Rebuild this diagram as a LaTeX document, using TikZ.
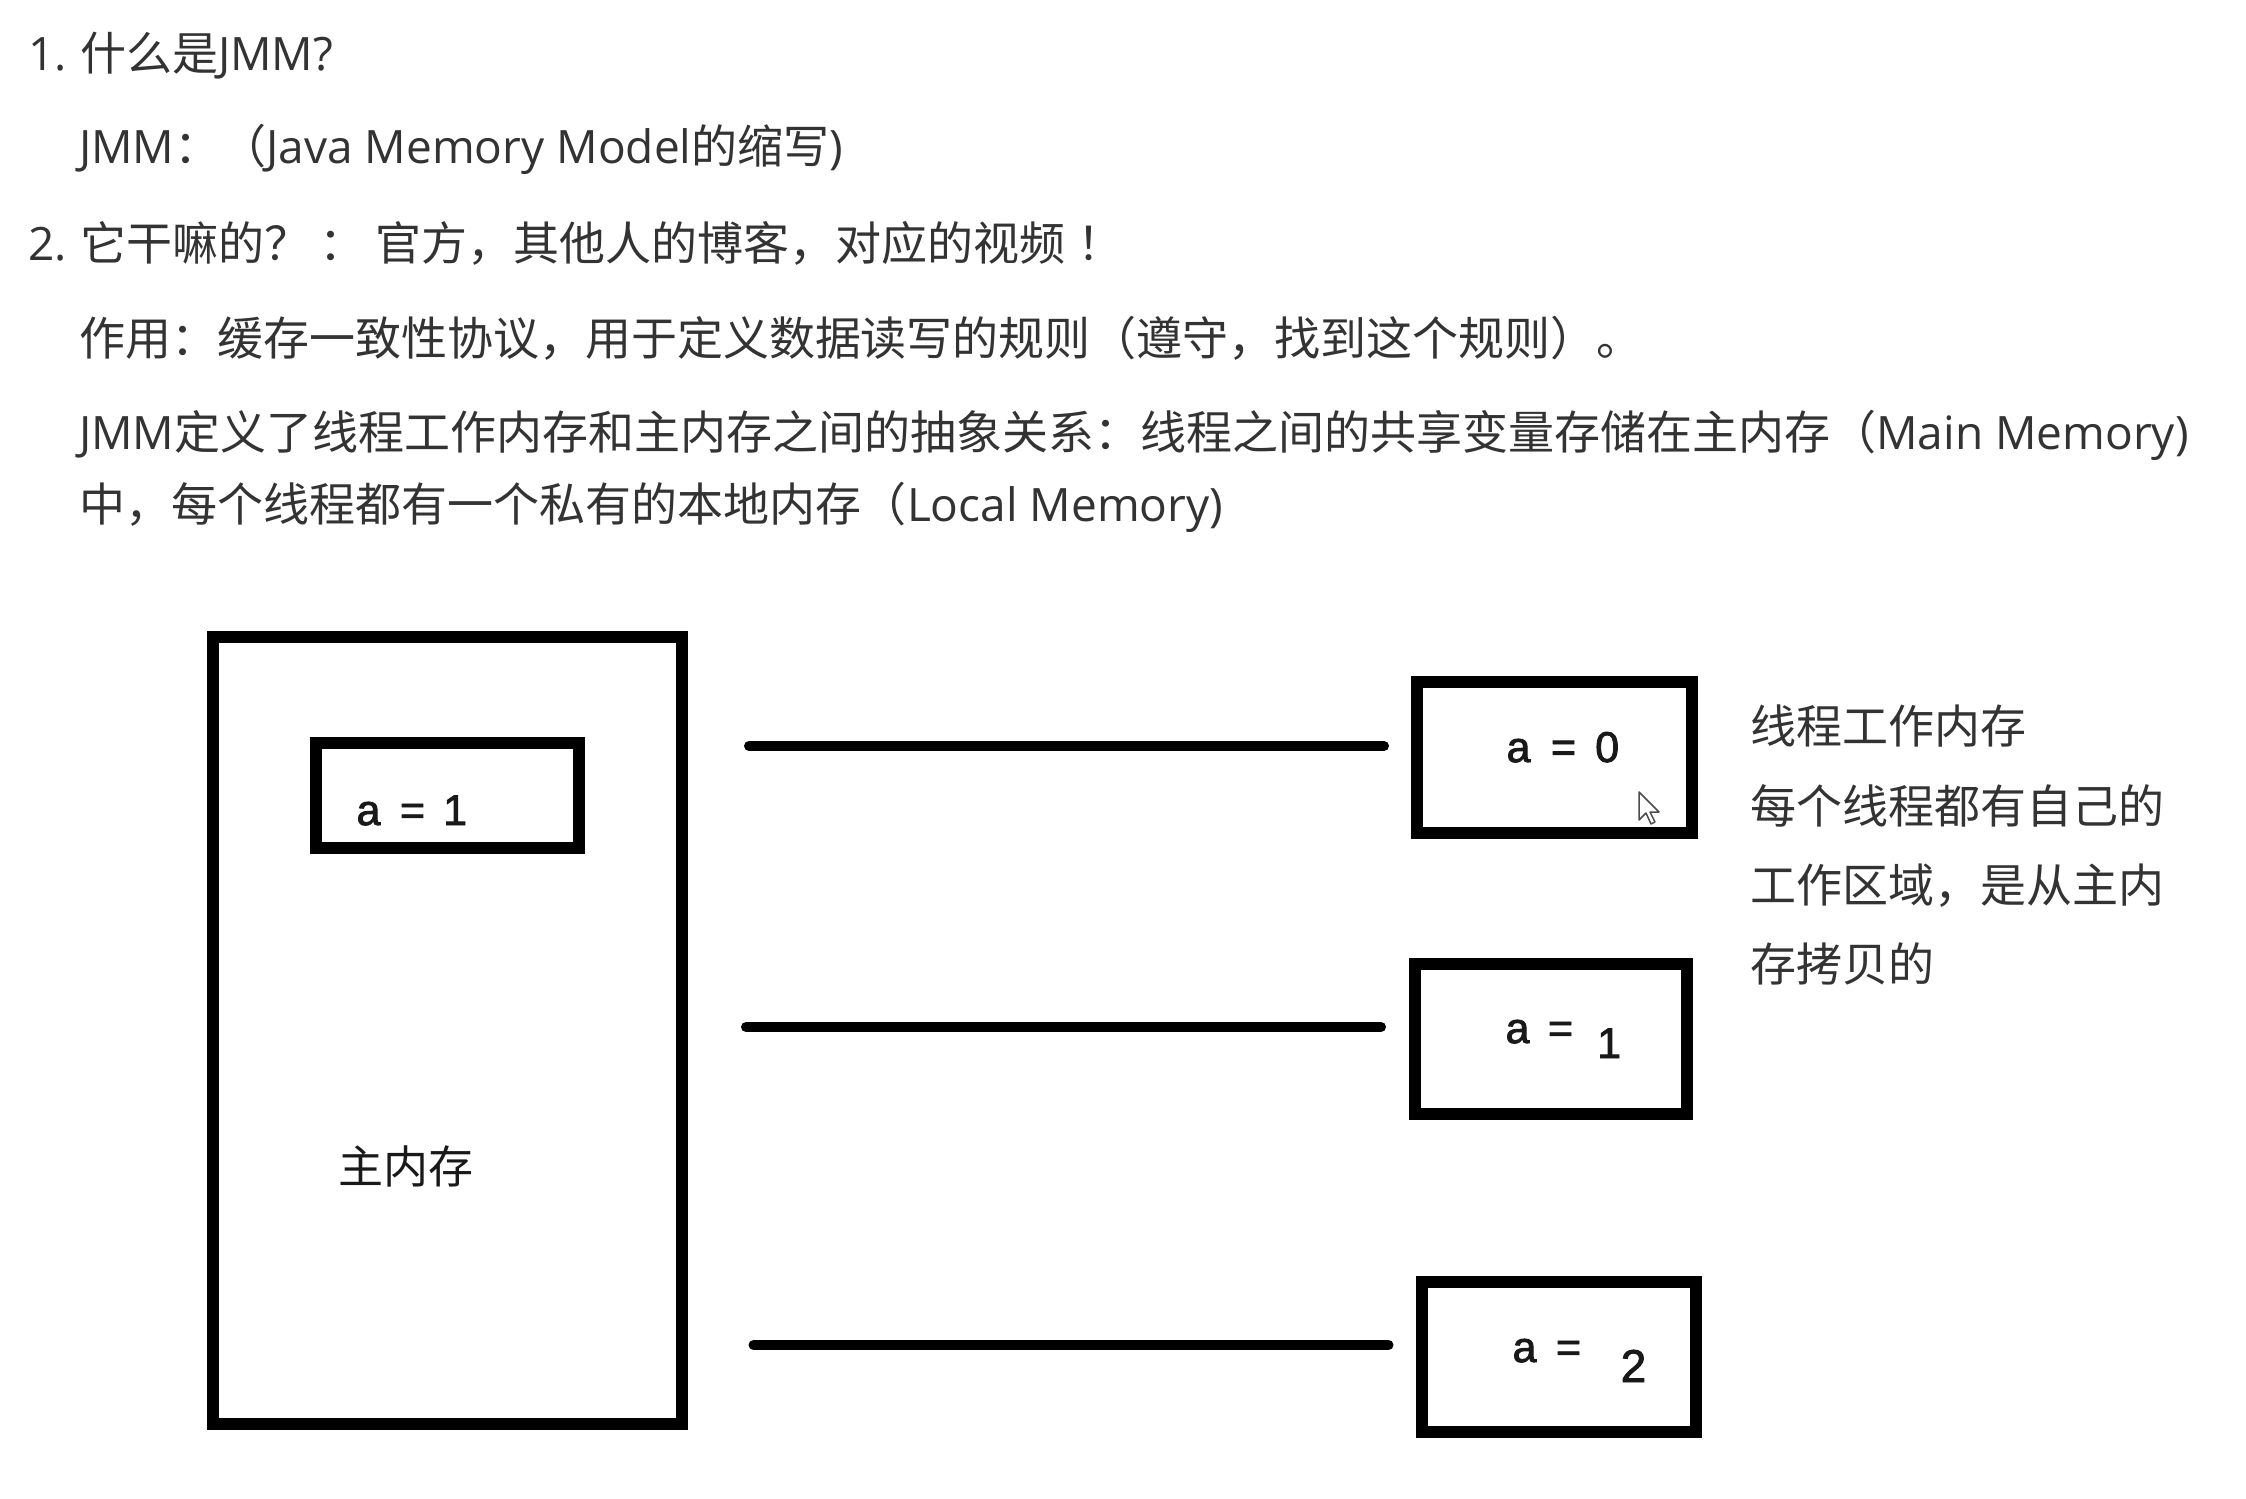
\documentclass[tikz,border=0pt]{standalone}
\usepackage{fontspec}
\setmainfont{Noto Sans CJK SC}
\newfontfamily\en{Open Sans}
\newfontfamily\labf[FakeBold=2]{Liberation Sans}
\definecolor{txt}{HTML}{333333}
\begin{document}
\begin{tikzpicture}[x=1pt,y=-1pt,
  para/.style={anchor=base west, inner sep=0pt, outer sep=0pt, text=txt, font=\fontsize{46}{56}\selectfont},
  cn/.style={inner sep=0pt, text=black!90, font=\fontsize{45}{54}\selectfont},
  lab/.style={anchor=base west, inner sep=0pt, text=black!90, font=\labf\fontsize{43}{50}\selectfont},
  membox/.style={draw=black, line width=12pt, inner sep=0pt, outer sep=0pt},
  link/.style={draw=black, line width=10pt, line cap=round}]
\fill[white] (0,0) rectangle (2246,1499);
\useasboundingbox (0,0) rectangle (2246,1499);

% ---- top text ----
\node[para] (n1) at (28.6,70) {\en 1.};
\node[para] (t1) at (80,70) {什么是{\en JMM?}};
\node[para] (t2) at (79,163) {{\en JMM}：（{\en Java Memory Model}的缩写{\en )}};
\node[para] (n2) at (28.6,260.5) {\en 2.};
\node[para] (t3) at (80,260.5) {它干嘛的？\hspace{10pt}：\hspace{10pt}官方，其他人的博客，对应的视频\hspace{12pt}！};
\node[para] (t4) at (79,355) {作用：缓存一致性协议，用于定义数据读写的规则（遵守，找到这个规则）。};
\node[para] (t5) at (79,449.6) {{\en JMM}定义了线程工作内存和主内存之间的抽象关系：线程之间的共享变量存储在主内存（{\en Main Memory)}};
\node[para] (t6) at (79,521) {中，每个线程都有一个私有的本地内存（{\en Local Memory)}};

% ---- main memory ----
\node[membox, minimum width=469pt, minimum height=787pt] (main) at (447.5,1030.5) {};
\node[membox, minimum width=263pt, minimum height=105pt] (var) at (447.5,795.5) {};
\node[lab] (va) at (356.4,825) {a};
\node[lab] (veq) at (399.8,825) {=};
\node[lab] (vv) at (443,825) {1};
\node[cn] (mainlab) at (406,1166) {主内存};

% ---- thread working memories ----
\node[membox, minimum width=275pt, minimum height=151pt] (w1) at (1554.3,757.1) {};
\node[membox, minimum width=272.5pt, minimum height=150pt] (w2) at (1551.2,1038.5) {};
\node[membox, minimum width=274.5pt, minimum height=150pt] (w3) at (1559.2,1356.5) {};
\node[lab] (w1a) at (1506.4,762) {a};
\node[lab] (w1eq) at (1550.8,762) {=};
\node[lab] (w1v) at (1595,762) {0};
\node[lab] (w2a) at (1505.4,1043) {a};
\node[lab] (w2eq) at (1547.8,1043) {=};
\node[lab] (w2v) at (1597,1058) {1};
\node[lab] (w3a) at (1512.4,1362) {a};
\node[lab] (w3eq) at (1555.8,1362) {=};
\node[lab,font=\labf\fontsize{46}{50}\selectfont] (w3v) at (1620.5,1382) {2};

% ---- connectors ----
\coordinate (l1a) at (749,746);  \coordinate (l1b) at (1384,746);
\coordinate (l2a) at (746,1027); \coordinate (l2b) at (1381,1027);
\coordinate (l3a) at (753.5,1345); \coordinate (l3b) at (1388.5,1345);
\draw[link] (l1a) -- (l1b);
\draw[link] (l2a) -- (l2b);
\draw[link] (l3a) -- (l3b);

% ---- side note ----
\node[para] (s1) at (1750,743) {线程工作内存};
\node[para] (s2) at (1750,823) {每个线程都有自己的};
\node[para] (s3) at (1750,902) {工作区域，是从主内};
\node[para] (s4) at (1750,981) {存拷贝的};

% ---- mouse pointer ----
\draw[line width=1.5pt, draw=black!70, fill=white, line join=round]
  (1639,792) -- (1639,820) -- (1646,813) -- (1651,824) -- (1655,822) -- (1650,812) -- (1659,812) -- cycle;
\end{tikzpicture}
\end{document}
